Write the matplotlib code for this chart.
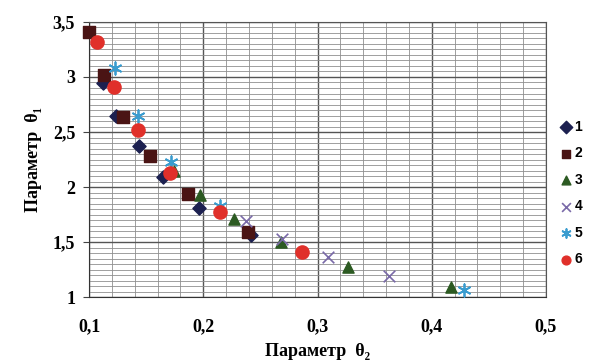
import numpy as np
import matplotlib
matplotlib.use("Agg")
import matplotlib.pyplot as plt
from matplotlib.ticker import MultipleLocator, FuncFormatter

# серии данных (theta2, theta1)
x1 = [0.112, 0.124, 0.144, 0.165, 0.196, 0.242]
y1 = [2.945, 2.65, 2.37, 2.09, 1.81, 1.56]
x2 = [0.100, 0.113, 0.130, 0.153, 0.187, 0.239]
y2 = [3.41, 3.02, 2.64, 2.28, 1.94, 1.59]
x3 = [0.174, 0.197, 0.227, 0.268, 0.327, 0.417]
y3 = [2.15, 1.93, 1.71, 1.50, 1.27, 1.09]
x4 = [0.237, 0.269, 0.309, 0.363]
y4 = [1.69, 1.53, 1.36, 1.19]
x5 = [0.123, 0.143, 0.172, 0.215, 0.428]
y5 = [3.08, 2.65, 2.23, 1.83, 1.06]
x6 = [0.107, 0.122, 0.143, 0.171, 0.215, 0.286]
y6 = [3.32, 2.91, 2.52, 2.13, 1.77, 1.41]

labels = ['1', '2', '3', '4', '5', '6']

serif = ['Liberation Serif', 'DejaVu Serif']

fig = plt.figure(figsize=(6.11, 3.63), dpi=100)
ax = fig.add_axes([0.1457, 0.1818, 0.7479, 0.7576])

ax.scatter(x1, y1, marker='D', s=45, color='#1c2050', label=labels[0], zorder=3, clip_on=False)
ax.scatter(x2, y2, marker='s', s=85, color='#4a1414', label=labels[1], zorder=3, clip_on=False)
ax.scatter(x3, y3, marker='^', s=65, color='#2c5a22', label=labels[2], zorder=3, clip_on=False)
ax.scatter(x4, y4, marker='x', s=70, color='#7a6aa8', linewidths=1.2, label=labels[3], zorder=3, clip_on=False)
ax.scatter(x5, y5, marker=(6, 2, 0), s=80, color='#3a9ccf', linewidths=1.3, label=labels[4], zorder=3, clip_on=False)
ax.scatter(x6, y6, marker='o', s=90, color='#e0302a', label=labels[5], zorder=3, clip_on=False)

ax.set_xlim(0.1, 0.5)
ax.set_ylim(1, 3.5)
ax.xaxis.set_major_locator(MultipleLocator(0.1))
ax.xaxis.set_minor_locator(MultipleLocator(0.02))
ax.yaxis.set_major_locator(MultipleLocator(0.5))
ax.yaxis.set_minor_locator(MultipleLocator(0.05))
ax.grid(which='major', color='#555555', linewidth=1.0)
ax.grid(which='minor', color='#8f8f8f', linewidth=0.6)
ax.set_axisbelow(True)

fmt = FuncFormatter(lambda v, p: ('%g' % round(v, 2)).replace('.', ','))
ax.xaxis.set_major_formatter(fmt)
ax.yaxis.set_major_formatter(fmt)
ax.tick_params(axis='x', which='major', length=0, pad=15)
ax.tick_params(axis='y', which='major', length=4, pad=6, color='#444444')
ax.tick_params(which='minor', length=0)
for lab in ax.get_xticklabels() + ax.get_yticklabels():
    lab.set_family(serif)
    lab.set_fontweight('bold')
    lab.set_fontsize(13)

for s in ax.spines.values():
    s.set_color('#555555')
ax.spines['left'].set_color('#333333')
ax.spines['bottom'].set_color('#333333')

ax.set_xlabel('Параметр  θ₂', family=serif, fontweight='bold', fontsize=13, labelpad=6)
ax.set_ylabel('Параметр  θ₁', family=serif, fontweight='bold', fontsize=13, labelpad=8)

leg = fig.legend(loc='center left', bbox_to_anchor=(0.895, 0.468), frameon=False,
                 handletextpad=0.1, labelspacing=0.9, handlelength=1.0,
                 prop={'family': ['Liberation Sans', 'DejaVu Sans'], 'weight': 'bold', 'size': 10})
for h in leg.legend_handles:
    h.set_sizes([40])

fig.savefig('out.png', dpi=100)
